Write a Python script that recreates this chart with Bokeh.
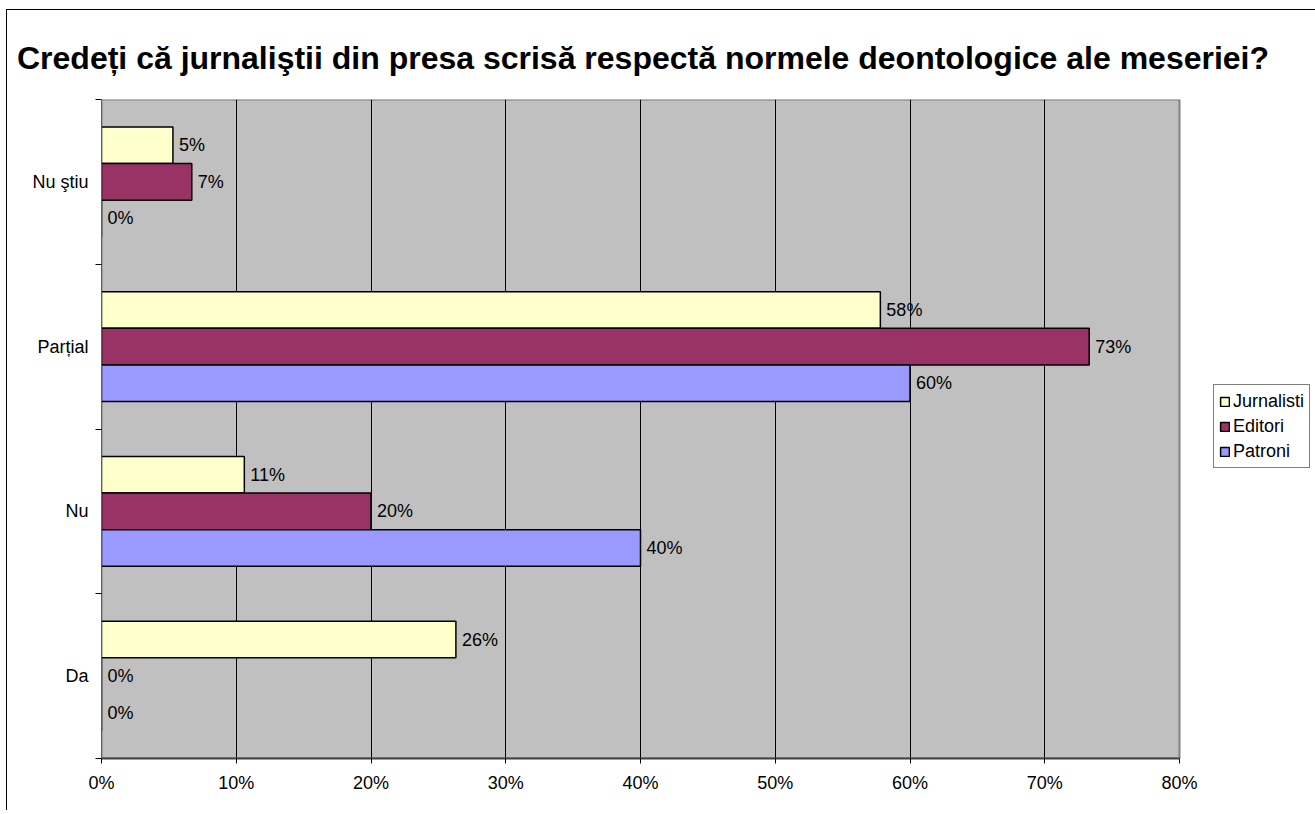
from bokeh.plotting import figure
from bokeh.layouts import column
from bokeh.models import (ColumnDataSource, FixedTicker, Legend, LegendItem, Range1d, Div)
from bokeh.core.properties import value
from bokeh.embed import file_html
from bokeh.resources import INLINE

# ---------------- data ----------------
title_text = "Credeți că jurnaliştii din presa scrisă respectă normele deontologice ale meseriei?"
categories = ["Da", "Nu", "Parțial", "Nu ştiu"]          # bottom -> top
series_names = ["Jurnalisti", "Editori", "Patroni"]
jurnalisti = [26.3, 10.6, 57.8, 5.3]
editori = [0.0, 20.0, 73.3, 6.7]
patroni = [0.0, 40.0, 60.0, 0.0]
series_values = [jurnalisti, editori, patroni]
series_colors = ["#FFFFCC", "#993366", "#9999FF"]
x_ticks = [0, 10, 20, 30, 40, 50, 60, 70, 80]
x_tick_labels = ["0%", "10%", "20%", "30%", "40%", "50%", "60%", "70%", "80%"]
x_max = 80

FONT = "Liberation Sans"
BAR_H = 1 / 4.5

FIG_W = 1308
BORDER_L = 94
PLOT_AREA_W = 1078                       # width of the grey plot area (0..80%)
FRAME_W = FIG_W - BORDER_L               # frame runs to the right edge (holds the legend)
x_end = x_max * FRAME_W / PLOT_AREA_W

title_div = Div(
    text=('<div style="font-family:\'Liberation Sans\',Arial,sans-serif;font-weight:bold;'
          'font-size:32px;line-height:36px;color:#000000;padding-left:10px;padding-top:30px;'
          'white-space:nowrap;">' + title_text + '</div>'),
    width=FIG_W, height=88, margin=0)

p = figure(width=FIG_W, height=712, x_range=Range1d(0, x_end), y_range=Range1d(0, len(categories)),
           output_backend="svg", toolbar_location=None, margin=0,
           min_border_left=BORDER_L, min_border_right=0, min_border_top=1, min_border_bottom=52,
           background_fill_color="white", border_fill_color="white",
           outline_line_color=None)

# grey plot area
p.quad(left=[0], right=[x_max], bottom=[0], top=[len(categories)],
       fill_color="#C0C0C0", line_color="#808080", line_width=2, level="image")

# axes
p.xaxis.bounds = (0, x_max)
p.xaxis.ticker = FixedTicker(ticks=x_ticks)
p.xaxis.major_label_overrides = {t: l for t, l in zip(x_ticks, x_tick_labels)}
p.xaxis.major_tick_out = 5
p.xaxis.major_tick_in = 0
p.xaxis.minor_tick_out = 0
p.xaxis.minor_tick_in = 0
p.xaxis.axis_line_color = "#404040"
p.xaxis.axis_line_width = 2
p.xaxis.major_tick_line_color = "#000000"
p.xaxis.major_label_standoff = 9
p.xaxis.major_label_text_font = FONT
p.xaxis.major_label_text_font_size = "18px"
p.xaxis.major_label_text_color = "#000000"

cat_centers = [i + 0.5 for i in range(len(categories))]
p.yaxis.ticker = FixedTicker(ticks=cat_centers, minor_ticks=list(range(len(categories) + 1)))
p.yaxis.major_label_overrides = {c: n for c, n in zip(cat_centers, categories)}
p.yaxis.major_tick_out = 0
p.yaxis.major_tick_in = 0
p.yaxis.minor_tick_out = 6
p.yaxis.minor_tick_in = 0
p.yaxis.minor_tick_line_color = "#000000"
p.yaxis.axis_line_color = "#606060"
p.yaxis.axis_line_width = 1
p.yaxis.major_label_standoff = 7
p.yaxis.major_label_text_font = FONT
p.yaxis.major_label_text_font_size = "18px"
p.yaxis.major_label_text_color = "#000000"

p.xgrid.ticker = FixedTicker(ticks=x_ticks[1:-1])
p.xgrid.grid_line_color = "#000000"
p.xgrid.grid_line_width = 1
p.ygrid.visible = False

# bars + labels
items = []
for k, (name, vals, col) in enumerate(zip(series_names, series_values, series_colors)):
    ys = [c + (1 - k) * BAR_H for c in cat_centers]
    src = ColumnDataSource(dict(y=ys, v=vals, lbl=[f"{v:.0f}%" for v in vals]))
    r = p.hbar(y="y", left=0, right="v", height=BAR_H, source=src,
               fill_color=col, line_color="#000000", line_width=1.5)
    p.text(x="v", y="y", text="lbl", source=src, x_offset=6, text_align="left",
           text_baseline="middle", text_font=value(FONT), text_font_size=value("18px"),
           text_color="#000000")
    items.append(LegendItem(label=name, renderers=[r]))

legend = Legend(items=items, location=(1112, 290), orientation="vertical",
                label_text_font=FONT, label_text_font_size="18px", label_text_color="#000000",
                glyph_width=11, glyph_height=11, label_standoff=3, spacing=3, padding=5,
                label_height=22, margin=0,
                border_line_color="#000000", border_line_width=1,
                background_fill_color="#FFFFFF", background_fill_alpha=1)
p.add_layout(legend, "center")

layout = column(title_div, p, spacing=0,
                styles={"margin-left": "6px", "margin-top": "9px",
                        "border-top": "1px solid #000000", "border-left": "1px solid #000000"})

open("out.html", "w").write(file_html(layout, INLINE))
